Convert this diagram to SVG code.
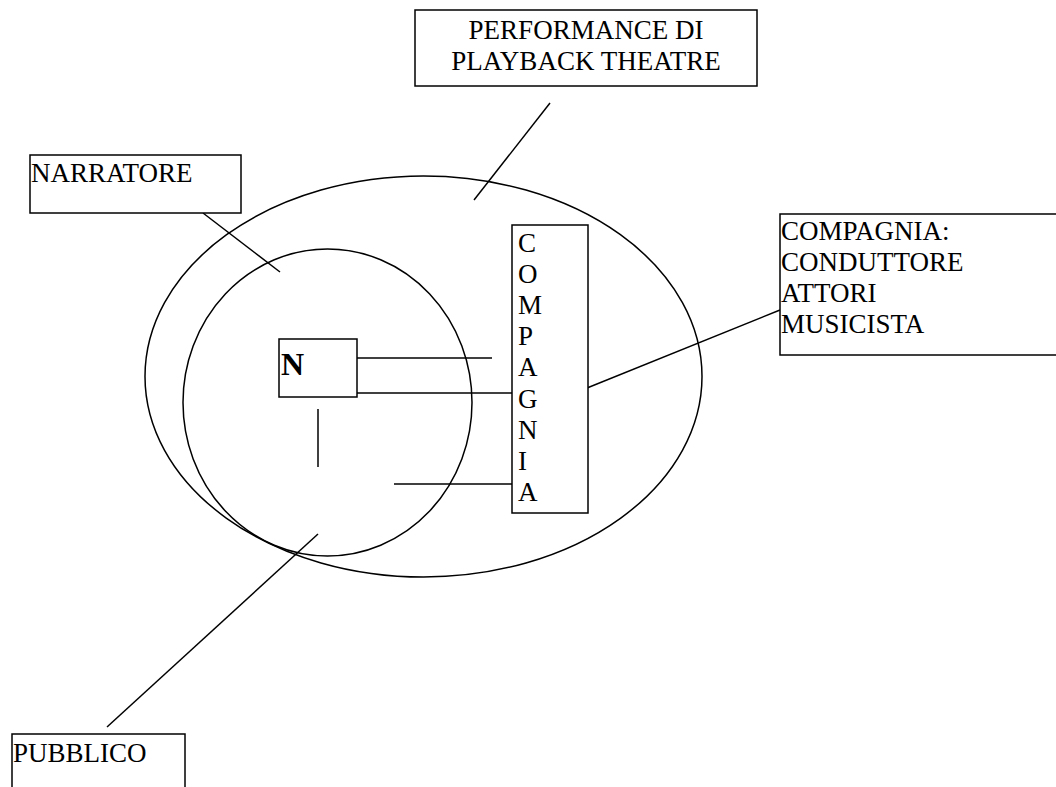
<svg xmlns="http://www.w3.org/2000/svg" width="1056" height="787" viewBox="0 0 1056 787">
<style>
.s{fill:none;stroke:#000;stroke-width:1.5}
.b{fill:#fff;stroke:#000;stroke-width:1.5}
text{font-family:"Liberation Serif","Times New Roman",serif;font-size:27px;fill:#000}
</style>
<rect width="1056" height="787" fill="#fff"/>
<g id="ellipses">
<ellipse class="s" cx="423.5" cy="376.5" rx="278.5" ry="200.5"/>
<ellipse class="s" cx="327.5" cy="402.5" rx="144.5" ry="153.5"/>
</g>
<g id="connectors" class="s">
<line x1="550" y1="103" x2="474" y2="200"/>
<line x1="203" y1="213" x2="280" y2="272"/>
<line x1="587" y1="388" x2="780" y2="310"/>
<line x1="318" y1="534" x2="107" y2="727"/>
<line x1="357" y1="358" x2="492" y2="358"/>
<line x1="357" y1="393" x2="512" y2="393"/>
<line x1="318" y1="409" x2="318" y2="467"/>
<line x1="394" y1="484" x2="512" y2="484"/>
</g>
<g id="performance">
<rect class="b" x="415" y="10" width="342" height="76"/>
<text x="586" y="39" text-anchor="middle">PERFORMANCE DI</text>
<text x="586" y="70" text-anchor="middle">PLAYBACK THEATRE</text>
</g>
<g id="narratore">
<rect class="b" x="30" y="155" width="211" height="58"/>
<text x="31" y="182">NARRATORE</text>
</g>
<g id="compagnia-vertical">
<rect class="b" x="512" y="225" width="76" height="288"/>
<text x="518" y="252">C</text>
<text x="518" y="283">O</text>
<text x="518" y="314">M</text>
<text x="518" y="345">P</text>
<text x="518" y="376">A</text>
<text x="518" y="408">G</text>
<text x="518" y="439">N</text>
<text x="518" y="470">I</text>
<text x="518" y="501">A</text>
</g>
<g id="compagnia">
<rect class="b" x="780" y="214" width="290" height="141"/>
<text x="781" y="240">COMPAGNIA:</text>
<text x="781" y="271">CONDUTTORE</text>
<text x="781" y="302">ATTORI</text>
<text x="781" y="333">MUSICISTA</text>
</g>
<g id="n">
<rect class="b" x="279" y="339" width="78" height="58"/>
<text x="281" y="375" style="font-weight:bold;font-size:32px">N</text>
</g>
<g id="pubblico">
<rect class="b" x="12" y="734" width="173" height="70"/>
<text x="13" y="762">PUBBLICO</text>
</g>
</svg>
